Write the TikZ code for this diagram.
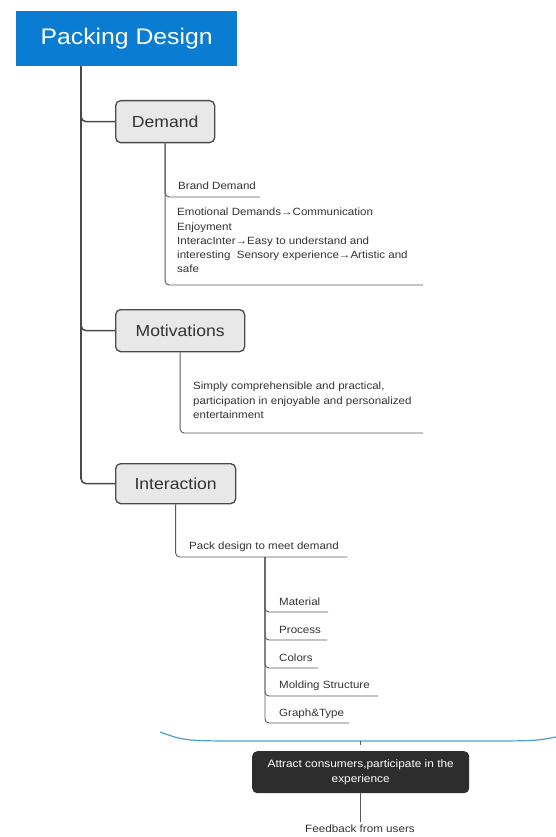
\documentclass[tikz,border=0pt]{standalone}
\usepackage{fontspec}
\setmainfont{Liberation Sans}[FakeStretch=1.1]
\definecolor{pblue}{HTML}{0A7DD2}
\definecolor{boxfill}{HTML}{E8E8E8}
\definecolor{boxdraw}{HTML}{4A4A4A}
\definecolor{txt}{HTML}{333333}
\definecolor{darkbox}{HTML}{2D2D2D}
\definecolor{curvecol}{HTML}{4A9FD0}
\begin{document}
\begin{tikzpicture}[x=1pt,y=-1pt,
 topic/.style={draw=boxdraw, line width=1.3pt, fill=boxfill, rounded corners=5pt, anchor=north west, inner sep=0, font=\fontsize{16}{19}\selectfont, text=txt},
 mainline/.style={draw=boxdraw, line width=1.6pt, rounded corners=5pt},
 subline/.style={draw=gray!70!black, line width=0.9pt, rounded corners=4pt},
 small/.style={font=\fontsize{10.5}{14.2}\selectfont, text=txt, inner sep=0},
]
\useasboundingbox[fill=white] (0,0) rectangle (556,837);

\node[fill=pblue, text=white, minimum width=221pt, minimum height=55pt, inner sep=0, anchor=north west, font=\fontsize{22.5}{26}\selectfont] (title) at (16,11) {Packing Design};

\node[topic, minimum width=99pt, minimum height=42pt] (demand) at (115,100) {Demand};
\node[topic, minimum width=129pt, minimum height=42pt] (motivations) at (115,309) {Motivations};
\node[topic, minimum width=120pt, minimum height=40pt] (interaction) at (115,463) {Interaction};

\coordinate (mtop) at ([xshift=65pt]title.south west);
\draw[mainline] (mtop) |- (demand.west);
\draw[mainline] (mtop) |- (motivations.west);
\draw[mainline] (mtop) |- (interaction.west);

% Demand
\node[small, anchor=west] (brand) at (178,186) {Brand Demand};
\coordinate (brandE) at (260,197);
\draw[subline] (demand.south) |- (brandE);
\node[small, anchor=north west, align=left] (emo) at (177,208) {Emotional Demands→Communication\\Enjoyment\\InteracInter→Easy to understand and\\interesting\ \ Sensory experience→Artistic and\\safe};
\coordinate (emoE) at (423,285);
\draw[subline] (demand.south) |- (emoE);

% Motivations
\node[small, anchor=north west, align=left] (mot) at (193,382) {Simply comprehensible and practical,\\participation in enjoyable and personalized\\entertainment};
\coordinate (motE) at (423,433);
\draw[subline] (motivations.south) |- (motE);

% Interaction
\node[small, anchor=west] (pack) at (189,547) {Pack design to meet demand};
\coordinate (packE) at (347,557);
\draw[subline] (interaction.south) |- (packE);
\coordinate (packV) at (265,557);

\node[small, anchor=west] (mat) at (279,602) {Material};
\node[small, anchor=west] (proc) at (279,630) {Process};
\node[small, anchor=west] (col) at (279,658) {Colors};
\node[small, anchor=west] (mold) at (279,686) {Molding Structure};
\node[small, anchor=west] (graph) at (279,714) {Graph\&Type};
\coordinate (matE) at (328,612);
\coordinate (procE) at (327,640);
\coordinate (colE) at (318,668);
\coordinate (moldE) at (378,696);
\coordinate (graphE) at (349,723);
\draw[subline] (packV) |- (matE);
\draw[subline] (packV) |- (procE);
\draw[subline] (packV) |- (colE);
\draw[subline] (packV) |- (moldE);
\draw[subline] (packV) |- (graphE);

% Bottom
\draw[curvecol, line width=1.2pt] (160,732) .. controls (185,741) .. (250,741) -- (470,741) .. controls (535,741) .. (556,737);
\coordinate (tick) at (360,741);
\coordinate (tickE) at (360,745);
\draw[subline] (tick) -- (tickE);
\node[fill=darkbox, rounded corners=5pt, text=white, minimum width=217pt, minimum height=42pt, anchor=north west, inner sep=0, align=center, font=\fontsize{10.8}{14.5}\selectfont] (attract) at (252,751) {Attract consumers,participate in the\\experience};
\node[small, font=\fontsize{10.6}{13}\selectfont, anchor=center, inner sep=3pt] (feedback) at (360,829) {Feedback from users};
\draw[subline] (attract.south -| feedback.north) -- (feedback.north);
\end{tikzpicture}
\end{document}
